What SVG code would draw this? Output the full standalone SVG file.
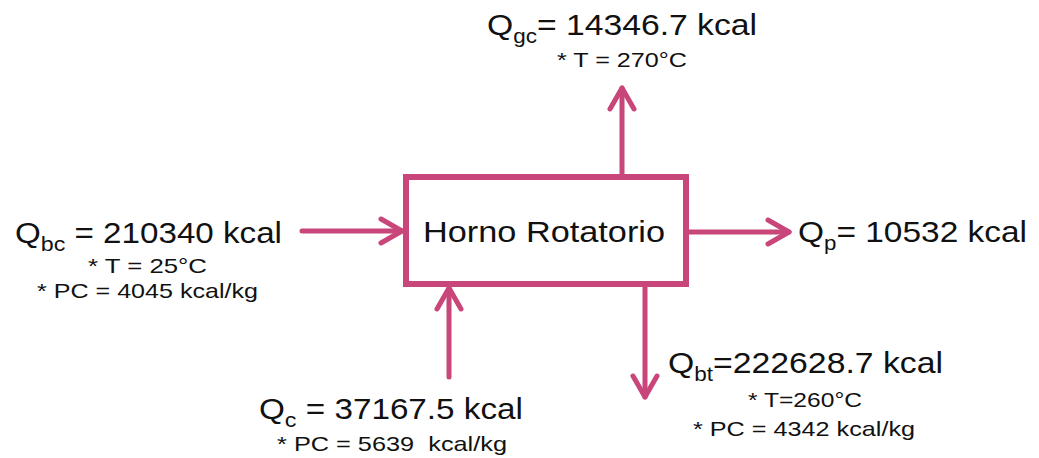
<svg xmlns="http://www.w3.org/2000/svg" width="1039" height="458" viewBox="0 0 1039 458">
<style>
text{font-family:"Liberation Sans",Arial,sans-serif;fill:#111;white-space:pre}
.big{font-size:30px}
.sm{font-size:21px}
.conn{stroke:#C8467A;stroke-width:5;fill:none;stroke-linecap:round}
.box{stroke:#C8467A;stroke-width:6;fill:#fff}
</style>
<defs>
<marker id="ah" viewBox="-26 -16 30 32" markerWidth="30" markerHeight="32" refX="0" refY="0" orient="auto" markerUnits="userSpaceOnUse">
<path d="M-21,-12 L0,0 L-21,12" fill="none" stroke="#C8467A" stroke-width="5" stroke-linecap="round" stroke-linejoin="round"/>
</marker>
</defs>
<rect width="1039" height="458" fill="#fff"/>
<g id="connectors">
<line class="conn" x1="302" y1="231" x2="402" y2="231" marker-end="url(#ah)"/>
<line class="conn" x1="622" y1="174" x2="622" y2="88" marker-end="url(#ah)"/>
<line class="conn" x1="689" y1="232" x2="789" y2="232" marker-end="url(#ah)"/>
<line class="conn" x1="449" y1="377" x2="449" y2="288" marker-end="url(#ah)"/>
<line class="conn" x1="645" y1="287" x2="645" y2="397" marker-end="url(#ah)"/>
</g>
<g id="horno">
<rect class="box" x="406" y="177" width="280" height="107"/>
<text class="big" x="423" y="242" font-size="31" textLength="242" lengthAdjust="spacingAndGlyphs">Horno Rotatorio</text>
</g>
<g id="qgc">
<text class="big" x="487" y="35" font-size="29.5" textLength="270" lengthAdjust="spacingAndGlyphs">Q<tspan font-size="20" dy="8">gc</tspan><tspan dy="-8">= 14346.7 kcal</tspan></text>
<text class="sm" x="557" y="67" textLength="130" lengthAdjust="spacingAndGlyphs">* T = 270°C</text>
</g>
<g id="qbc">
<text class="big" x="15" y="243" font-size="31.5" textLength="267" lengthAdjust="spacingAndGlyphs">Q<tspan font-size="21" dy="8">bc</tspan><tspan dy="-8"> = 210340 kcal</tspan></text>
<text class="sm" x="88" y="273" textLength="119" lengthAdjust="spacingAndGlyphs">* T = 25°C</text>
<text class="sm" x="37" y="298" textLength="221" lengthAdjust="spacingAndGlyphs">* PC = 4045 kcal/kg</text>
</g>
<g id="qp">
<text class="big" x="798" y="242" textLength="229" lengthAdjust="spacingAndGlyphs">Q<tspan font-size="20" dy="8">p</tspan><tspan dy="-8">= 10532 kcal</tspan></text>
</g>
<g id="qc">
<text class="big" x="259" y="419" font-size="31.5" textLength="264" lengthAdjust="spacingAndGlyphs">Q<tspan font-size="21" dy="8">c</tspan><tspan dy="-8"> = 37167.5 kcal</tspan></text>
<text class="sm" x="277" y="451" textLength="230" lengthAdjust="spacingAndGlyphs">* PC = 5639  kcal/kg</text>
</g>
<g id="qbt">
<text class="big" x="668" y="373" font-size="29.5" textLength="275" lengthAdjust="spacingAndGlyphs">Q<tspan font-size="20" dy="8">bt</tspan><tspan dy="-8">=222628.7 kcal</tspan></text>
<text class="sm" x="748" y="407" textLength="114" lengthAdjust="spacingAndGlyphs">* T=260°C</text>
<text class="sm" x="693" y="436" textLength="222" lengthAdjust="spacingAndGlyphs">* PC = 4342 kcal/kg</text>
</g>
</svg>
